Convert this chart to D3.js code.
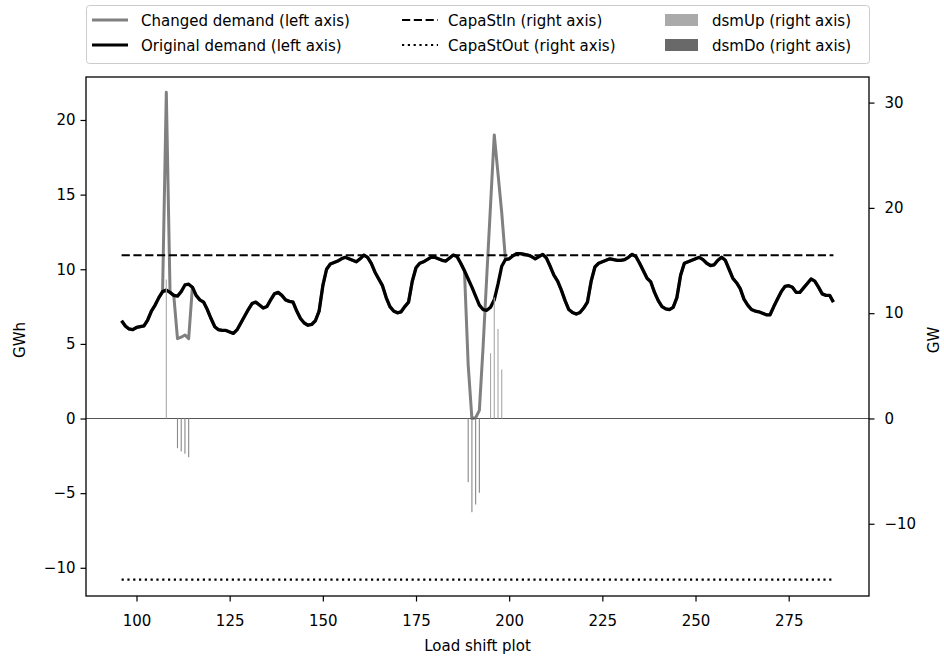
<!DOCTYPE html>
<html>
<head>
<meta charset="utf-8">
<script src="https://cdn.jsdelivr.net/npm/d3@7"></script>
<style>
  html, body { margin: 0; padding: 0; background: #fff; }
  svg { display: block; font-family: "DejaVu Sans", sans-serif; }
</style>
</head>
<body>
<svg id="chart" width="944" height="657"></svg>
<script>
// Hourly demand window (hours 96..287)
const firstHour = 96;
const originalDemand = [
  6.55, 6.2, 6.0, 5.95, 6.1, 6.15, 6.2, 6.6, 7.2, 7.6,
  8.1, 8.5, 8.6, 8.45, 8.25, 8.2, 8.5, 8.95, 9.0, 8.8,
  8.25, 7.95, 7.8, 7.3, 6.7, 6.15, 5.95, 5.9, 5.9, 5.8,
  5.7, 5.95, 6.4, 6.85, 7.3, 7.7, 7.8, 7.6, 7.4, 7.5,
  7.95, 8.35, 8.45, 8.25, 7.95, 7.85, 7.8, 7.2, 6.7, 6.4,
  6.25, 6.3, 6.55, 7.2, 8.9, 10.0, 10.35, 10.45, 10.55, 10.7,
  10.8, 10.7, 10.6, 10.5, 10.7, 10.95, 10.8, 10.4, 9.8, 9.35,
  8.9, 8.1, 7.5, 7.2, 7.08, 7.15, 7.5, 7.8, 9.2, 10.1,
  10.4, 10.5, 10.65, 10.8, 10.8, 10.7, 10.6, 10.55, 10.75, 10.95,
  10.85, 10.4, 9.9, 9.35, 8.8, 8.2, 7.6, 7.3, 7.25, 7.45,
  7.95, 9.0, 10.2, 10.65, 10.7, 10.9, 11.05, 11.05, 11.0, 10.95,
  10.85, 10.7, 10.85, 11.0, 10.75, 10.2, 9.6, 9.2, 8.6, 7.9,
  7.3, 7.1, 7.0, 7.1, 7.4, 7.8, 9.2, 10.15, 10.4, 10.5,
  10.6, 10.7, 10.65, 10.6, 10.6, 10.65, 10.8, 11.0, 10.85, 10.4,
  9.9, 9.4, 9.15, 8.45, 7.9, 7.5, 7.35, 7.3, 7.45, 8.1,
  9.6, 10.4, 10.5, 10.6, 10.7, 10.8, 10.65, 10.4, 10.25, 10.3,
  10.6, 10.8, 10.6, 10.0, 9.4, 9.1, 8.7, 8.0, 7.6, 7.3,
  7.2, 7.15, 7.05, 6.95, 6.95, 7.5, 8.0, 8.5, 8.85, 8.9,
  8.8, 8.45, 8.45, 8.75, 9.05, 9.35, 9.2, 8.8, 8.35, 8.25,
  8.25, 7.8
];

// Hours where demand was shifted, and the resulting demand there (GWh)
const shiftedHours  = [108, 111, 112, 113, 114, 189, 190, 191, 192, 193, 194, 195, 196, 197, 198];
const shiftedDemand = [21.85, 5.35, 5.45, 5.6, 5.35, 3.6, 0.0, 0.05, 0.55, 4.8, 9.6, 14.3, 19.0, 16.4, 13.8];

// Demand-side management activity (GW, right axis)
const dsmUpHours  = [108, 195, 196, 197, 198];
const dsmUpValues = [13.2, 6.2, 11.5, 8.5, 4.65];
const dsmDoHours  = [111, 112, 113, 114, 189, 190, 191, 192];
const dsmDoValues = [-2.82, -3.13, -3.35, -3.68, -6.05, -8.9, -8.17, -7.06];

// Storage capacity limits (GW, right axis)
const capaStIn  = 15.5;
const capaStOut = -15.3;

// Axis ticks
const xTicks      = [100, 125, 150, 175, 200, 225, 250, 275];
const leftTicks   = [-10, -5, 0, 5, 10, 15, 20];
const rightTicks  = [-10, 0, 10, 20, 30];

// Build the series
const hours = originalDemand.map((_, i) => firstHour + i);
const original = hours.map((h, i) => ({ h, v: originalDemand[i] }));
const shiftMap = new Map(shiftedHours.map((h, i) => [h, shiftedDemand[i]]));
const changed = hours.map((h, i) => ({ h, v: shiftMap.has(h) ? shiftMap.get(h) : originalDemand[i] }));
const upBars = dsmUpHours.map((h, i) => ({ h, v: dsmUpValues[i] }));
const doBars = dsmDoHours.map((h, i) => ({ h, v: dsmDoValues[i] }));

// Layout
const plot = { left: 86, right: 869, top: 77, bottom: 596 };
const svg = d3.select("#chart");

const x = d3.scaleLinear().domain([86.45, 296.55]).range([plot.left, plot.right]);
const yL = d3.scaleLinear().domain([-11.89, 22.88]).range([plot.bottom, plot.top]);
const yR = d3.scaleLinear().domain([-16.86, 32.43]).range([plot.bottom, plot.top]);

const hStart = hours[0], hEnd = hours[hours.length - 1];

// Demand lines (left axis)
const line = d3.line().x(d => x(d.h)).y(d => yL(d.v));
svg.append("path").datum(changed)
  .attr("d", line).attr("fill", "none")
  .attr("stroke", "#808080").attr("stroke-width", 3)
  .attr("stroke-linejoin", "round");
svg.append("path").datum(original)
  .attr("d", line).attr("fill", "none")
  .attr("stroke", "#000").attr("stroke-width", 3.3)
  .attr("stroke-linejoin", "round");

// Zero line
svg.append("line")
  .attr("x1", plot.left).attr("x2", plot.right)
  .attr("y1", yR(0)).attr("y2", yR(0))
  .attr("stroke", "#555").attr("stroke-width", 1.1);

// Storage limits (right axis)
svg.append("line")
  .attr("x1", x(hStart)).attr("x2", x(hEnd))
  .attr("y1", yR(capaStIn)).attr("y2", yR(capaStIn))
  .attr("stroke", "#000").attr("stroke-width", 2.2)
  .attr("stroke-dasharray", "8.2,3.6");
svg.append("line")
  .attr("x1", x(hStart)).attr("x2", x(hEnd))
  .attr("y1", yR(capaStOut)).attr("y2", yR(capaStOut))
  .attr("stroke", "#000").attr("stroke-width", 2.2)
  .attr("stroke-dasharray", "2.2,3.6");

// DSM bars (right axis)
const barW = 0.3;
svg.append("g").selectAll("rect").data(upBars).join("rect")
  .attr("x", d => x(d.h - barW / 2))
  .attr("width", x(barW) - x(0))
  .attr("y", d => yR(d.v))
  .attr("height", d => yR(0) - yR(d.v))
  .attr("fill", "#aaaaaa");
svg.append("g").selectAll("rect").data(doBars).join("rect")
  .attr("x", d => x(d.h - barW / 2))
  .attr("width", x(barW) - x(0))
  .attr("y", yR(0))
  .attr("height", d => yR(d.v) - yR(0))
  .attr("fill", "#8a8a8a");

// Axes
const fontSize = 15;
const minusFmt = d => d < 0 ? "\u2212" + Math.abs(d) : String(d);
const xAxis = d3.axisBottom(x).tickValues(xTicks).tickSize(5.5).tickPadding(14).tickFormat(d3.format("d"));
const yAxisL = d3.axisLeft(yL).tickValues(leftTicks).tickSize(5.5).tickPadding(5).tickFormat(minusFmt);
const yAxisR = d3.axisRight(yR).tickValues(rightTicks).tickSize(5.5).tickPadding(10).tickFormat(minusFmt);

function styleAxis(g) {
  g.select(".domain").remove();
  g.selectAll(".tick line").attr("stroke", "#000").attr("stroke-width", 1.2);
  g.selectAll(".tick text").attr("fill", "#000")
    .style("font-size", fontSize + "px").style("font-family", "DejaVu Sans");
}
svg.append("g").attr("transform", `translate(0,${plot.bottom})`).call(xAxis).call(styleAxis);
svg.append("g").attr("transform", `translate(${plot.left},0)`).call(yAxisL).call(styleAxis);
svg.append("g").attr("transform", `translate(${plot.right},0)`).call(yAxisR).call(styleAxis);

// Frame
svg.append("rect")
  .attr("x", plot.left).attr("y", plot.top)
  .attr("width", plot.right - plot.left).attr("height", plot.bottom - plot.top)
  .attr("fill", "none").attr("stroke", "#000").attr("stroke-width", 1.3);

// Axis labels
svg.append("text").attr("x", (plot.left + plot.right) / 2).attr("y", 651)
  .attr("text-anchor", "middle").style("font-size", fontSize + "px").text("Load shift plot");
svg.append("text").attr("transform", `translate(25,340) rotate(-90)`)
  .attr("text-anchor", "middle").style("font-size", fontSize + "px").text("GWh");
svg.append("text").attr("transform", `translate(939,340) rotate(-90)`)
  .attr("text-anchor", "middle").style("font-size", fontSize + "px").text("GW");

// Legend
const legend = svg.append("g");
legend.append("rect")
  .attr("x", 86.5).attr("y", 5.5).attr("width", 783).attr("height", 58)
  .attr("rx", 3).attr("fill", "#fff").attr("stroke", "#cccccc").attr("stroke-width", 1);

const legendItems = [
  { label: "Changed demand (left axis)", type: "line", color: "#808080", dash: null, col: 0, row: 0 },
  { label: "Original demand (left axis)", type: "line", color: "#000", dash: null, col: 0, row: 1 },
  { label: "CapaStIn (right axis)", type: "line", color: "#000", dash: "8.2,3.6", col: 1, row: 0 },
  { label: "CapaStOut (right axis)", type: "line", color: "#000", dash: "2.2,3.6", col: 1, row: 1 },
  { label: "dsmUp (right axis)", type: "patch", color: "#aaaaaa", col: 2, row: 0 },
  { label: "dsmDo (right axis)", type: "patch", color: "#696969", col: 2, row: 1 }
];
const colHandleX = [92, 402, 665];
const colTextX = [141, 448, 712];
const rowY = [20, 45];

legendItems.forEach(it => {
  const hx = colHandleX[it.col], cy = rowY[it.row];
  if (it.type === "line") {
    const l = legend.append("line")
      .attr("x1", hx).attr("x2", hx + 36).attr("y1", cy).attr("y2", cy)
      .attr("stroke", it.color)
      .attr("stroke-width", it.dash ? 2.2 : 3);
    if (it.dash) l.attr("stroke-dasharray", it.dash);
  } else {
    legend.append("rect").attr("x", hx).attr("y", cy - 6).attr("width", 33).attr("height", 12)
      .attr("fill", it.color);
  }
  legend.append("text").attr("x", colTextX[it.col]).attr("y", cy + 5.5)
    .style("font-size", fontSize + "px").text(it.label);
});
</script>
</body>
</html>
